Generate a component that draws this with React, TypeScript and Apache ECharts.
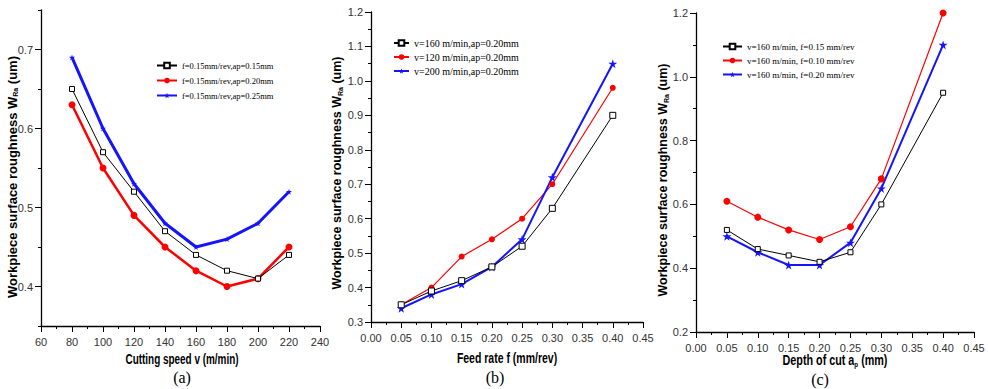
import React, { useEffect, useRef } from "react";
import * as echarts from "echarts";

// ---- data ----
const speedA = [80, 100, 120, 140, 160, 180, 200, 220];
const a_ap015 = [0.65, 0.57, 0.52, 0.47, 0.44, 0.42, 0.41, 0.44];
const a_ap020 = [0.63, 0.55, 0.49, 0.45, 0.42, 0.40, 0.41, 0.45];
const a_ap025 = [0.69, 0.60, 0.53, 0.48, 0.45, 0.46, 0.48, 0.52];
const aNames = [
  "f=0.15mm/rev,ap=0.15mm",
  "f=0.15mm/rev,ap=0.20mm",
  "f=0.15mm/rev,ap=0.25mm",
];

const feedB = [0.05, 0.1, 0.15, 0.2, 0.25, 0.3, 0.4];
const b_v160 = [0.35, 0.39, 0.42, 0.46, 0.52, 0.63, 0.90];
const b_v120 = [0.35, 0.40, 0.49, 0.54, 0.60, 0.70, 0.98];
const b_v200 = [0.34, 0.38, 0.41, 0.46, 0.54, 0.72, 1.05];
const bNames = [
  "v=160 m/min,ap=0.20mm",
  "v=120 m/min,ap=0.20mm",
  "v=200 m/min,ap=0.20mm",
];

const depthC = [0.05, 0.1, 0.15, 0.2, 0.25, 0.3, 0.4];
const c_f015 = [0.52, 0.46, 0.44, 0.42, 0.45, 0.60, 0.95];
const c_f010 = [0.61, 0.56, 0.52, 0.49, 0.53, 0.68, 1.20];
const c_f020 = [0.50, 0.45, 0.41, 0.41, 0.48, 0.65, 1.10];
const cNames = [
  "v=160 m/min, f=0.15 mm/rev",
  "v=160 m/min, f=0.10 mm/rev",
  "v=160 m/min, f=0.20 mm/rev",
];

const yTicksA = [0.4, 0.5, 0.6, 0.7];
const panelLabels = ["(a)", "(b)", "(c)"];
const yAxisTitle = "Workpiece surface roughness W{sub|Ra} (um)";
const xAxisTitles = ["Cutting speed v (m/min)", "Feed rate f (mm/rev)", "Depth of cut a{sub|p} (mm)"];

const STAR =
  "path://M50,0 L61,35 L98,35 L68,57 L79,91 L50,70 L21,91 L32,57 L2,35 L39,35 Z";
const SANS = "'Liberation Sans', Arial, sans-serif";
const SERIF = "'Liberation Serif', 'Times New Roman', serif";

const pairs = (xs: number[], ys: number[]) => xs.map((x, i) => [x, ys[i]]);

export default function App() {
  const ref = useRef<HTMLDivElement>(null);
  useEffect(() => {
    document.body.style.margin = "0";
    const chart = echarts.init(ref.current!, null, { renderer: "svg" });

    const axisLine = { show: true, lineStyle: { color: "#000", width: 1.3 } };
    const axisLabel = { color: "#333", fontSize: 11, fontFamily: SANS, margin: 10 };
    const yAxisLabel = { ...axisLabel, margin: 8 };
    const axisTick = { show: true, inside: false, length: 6, lineStyle: { color: "#000", width: 1 } };
    const minorTick = { show: true, splitNumber: 2, length: 3, lineStyle: { color: "#000", width: 1 } };

    const grids = [
      { left: 41, top: 10, width: 279, height: 316 },
      { left: 371, top: 12, width: 272, height: 310 },
      { left: 696, top: 13, width: 278, height: 319 },
    ];

    const xAxes: any[] = [
      {
        gridIndex: 0, type: "value", min: 60, max: 240, interval: 20,
        axisLine, axisTick, minorTick, splitLine: { show: false }, axisLabel,
      },
      {
        gridIndex: 1, type: "value", min: 0, max: 0.45, interval: 0.05,
        axisLine, axisTick, minorTick, splitLine: { show: false },
        axisLabel: { ...axisLabel, formatter: (v: number) => v.toFixed(2) },
      },
      {
        gridIndex: 2, type: "value", min: 0, max: 0.45, interval: 0.05,
        axisLine, axisTick, minorTick, splitLine: { show: false },
        axisLabel: { ...axisLabel, formatter: (v: number) => v.toFixed(2) },
      },
    ];

    const yAxes: any[] = [
      {
        gridIndex: 0, type: "value", min: 0.35, max: 0.75, position: "left",
        axisLine, splitLine: { show: false },
        axisTick: { ...axisTick, customValues: yTicksA },
        axisLabel: { ...yAxisLabel, customValues: yTicksA, formatter: (v: number) => v.toFixed(1) },
      },
      {
        gridIndex: 0, type: "value", min: 0.35, max: 0.75, interval: 0.05, position: "left",
        axisLine: { show: false }, splitLine: { show: false },
        axisTick: { show: true, length: 3, lineStyle: { color: "#000" } },
        axisLabel: { show: false },
      },
      {
        gridIndex: 1, type: "value", min: 0.3, max: 1.2, interval: 0.1,
        axisLine, axisTick, minorTick, splitLine: { show: false },
        axisLabel: { ...yAxisLabel, formatter: (v: number) => v.toFixed(1) },
      },
      {
        gridIndex: 2, type: "value", min: 0.2, max: 1.2, interval: 0.2,
        axisLine, axisTick, minorTick, splitLine: { show: false },
        axisLabel: { ...yAxisLabel, formatter: (v: number) => v.toFixed(1) },
      },
    ];

    const mk = (name: string, x: number, y: number, data: number[][], color: string, width: number, symbol: string, size: number, hollow: boolean) => ({
      name, type: "line", xAxisIndex: x, yAxisIndex: y, data,
      lineStyle: { color, width },
      itemStyle: { color: hollow ? "#fff" : color, borderColor: color, borderWidth: hollow ? 1 : 0 },
      symbol, symbolSize: size, showSymbol: true, z: hollow ? 3 : 2,
    });

    const series = [
      mk(aNames[0], 0, 0, pairs(speedA, a_ap015), "#000", 1, "rect", 5, true),
      mk(aNames[1], 0, 0, pairs(speedA, a_ap020), "#ff0000", 2.5, "circle", 7, false),
      mk(aNames[2], 0, 0, pairs(speedA, a_ap025), "#1414ff", 3, STAR, 6, false),
      mk(bNames[0], 1, 2, pairs(feedB, b_v160), "#000", 1, "rect", 6, true),
      mk(bNames[1], 1, 2, pairs(feedB, b_v120), "#ff0000", 1.2, "circle", 6, false),
      mk(bNames[2], 1, 2, pairs(feedB, b_v200), "#1414ff", 2, STAR, 9, false),
      mk(cNames[0], 2, 3, pairs(depthC, c_f015), "#000", 1, "rect", 5, true),
      mk(cNames[1], 2, 3, pairs(depthC, c_f010), "#ff0000", 1.2, "circle", 7, false),
      mk(cNames[2], 2, 3, pairs(depthC, c_f020), "#1414ff", 2, STAR, 9, false),
    ];

    const legendBase = { orient: "vertical", selectedMode: false, padding: 0, itemHeight: 7 };
    const lText = (size: number) => ({ fontFamily: SERIF, fontSize: size, color: "#000" });

    const subStyle = (size: number) => ({
      fontSize: size, fontWeight: "bold", fontFamily: SANS, fill: "#000", verticalAlign: "bottom", padding: [size, 0, 0, 0],
    });
    const yTitle = (x: number, y: number, size: number) => ({
      type: "text", x, y, rotation: Math.PI / 2,
      style: {
        text: yAxisTitle, fontFamily: SANS, fontWeight: "bold", fontSize: size, fill: "#000",
        align: "center", verticalAlign: "middle", rich: { sub: subStyle(7) },
      },
    });
    const xTitle = (text: string, x: number, y: number, sx: number) => ({
      type: "text", x, y, scaleX: sx,
      style: {
        text, fontFamily: SANS, fontWeight: "bold", fontSize: 14, fill: "#000",
        align: "center", verticalAlign: "middle", rich: { sub: subStyle(8) },
      },
    });
    const panel = (text: string, x: number, y: number) => ({
      type: "text", x, y,
      style: { text, font: `16px ${SERIF}`, fill: "#000", align: "center", verticalAlign: "middle" },
    });

    chart.setOption({
      animation: false,
      grid: grids,
      xAxis: xAxes,
      yAxis: yAxes,
      legend: [
        { ...legendBase, data: aNames, left: 156, top: 61, itemWidth: 20, itemGap: 6, textStyle: lText(8.5) },
        { ...legendBase, data: bNames, left: 393, top: 38, itemWidth: 15, itemGap: 4, textStyle: lText(10) },
        { ...legendBase, data: cNames, left: 722, top: 42, itemWidth: 19, itemGap: 5, textStyle: lText(9) },
      ],
      series,
      graphic: [
        yTitle(12, 177, 13),
        yTitle(337, 173, 12.5),
        yTitle(663, 180, 12.5),
        xTitle(xAxisTitles[0], 182, 359, 0.71),
        xTitle(xAxisTitles[1], 507, 358, 0.75),
        xTitle(xAxisTitles[2], 835, 361, 0.77),
        panel(panelLabels[0], 182, 377),
        panel(panelLabels[1], 495, 377),
        panel(panelLabels[2], 820, 379),
      ],
    });
    return () => chart.dispose();
  }, []);
  return <div ref={ref} style={{ width: 988, height: 389 }} />;
}
